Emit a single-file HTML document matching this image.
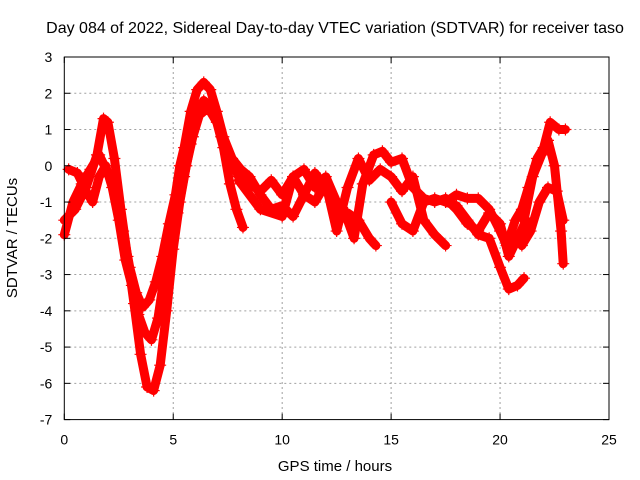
<!DOCTYPE html>
<html><head><meta charset="utf-8"><style>
html,body{margin:0;padding:0;background:#fff;}
svg{display:block;font-family:"Liberation Sans",sans-serif;}
</style></head><body>
<svg id="chart" width="640" height="480" viewBox="0 0 640 480">
<rect width="640" height="480" fill="#fff"/>
<text x="335" y="33" font-size="16" text-anchor="middle" fill="#000">Day 084 of 2022, Sidereal Day-to-day VTEC variation (SDTVAR) for receiver taso</text>
<text x="335" y="471" font-size="15" text-anchor="middle">GPS time / hours</text>
<text transform="translate(17,238) rotate(-90)" font-size="15" text-anchor="middle">SDTVAR / TECUs</text>
<g id="grid"></g><g id="series"></g><g id="axes"></g>
</svg>
<script>
const xTicks=[0,5,10,15,20,25];
const yTicks=[3,2,1,0,-1,-2,-3,-4,-5,-6,-7];
const serA_t=[0,0.5,1.0,1.5,1.8,2.0,2.3,2.6,2.9,3.2,3.5,3.8,4.1,4.4,4.7,5.0,5.3,5.6,5.9,6.2,6.6,7.0,7.3,7.6,7.9,8.2];
const serA_v=[-1.5,-1.2,-0.6,0.3,1.3,1.2,0.2,-1.2,-2.5,-3.8,-5.2,-6.1,-6.2,-5.5,-4.0,-2.3,-1.0,0.0,0.8,1.4,1.6,1.2,0.5,-0.5,-1.2,-1.7];
const serB_t=[0.2,0.6,1.0,1.3,1.6,1.9,2.2,2.5,2.8,3.1,3.4,3.7,4.0,4.3,4.6,4.9,5.2,5.5,5.8,6.1,6.4,6.8,7.2,7.6,8.0,8.5,9.0,9.5,10.0,10.5,11.0,11.5,12.0,12.5,13.0,13.3,13.7,14.2,14.6,15.0,15.5,16.0,16.5,17.0,17.5,18.0,18.5,19.0,19.5,20.0,20.4,20.8,21.2];
const serB_v=[-0.1,-0.2,-0.7,-1.0,-0.3,0.0,-0.6,-1.5,-2.6,-3.3,-4.1,-4.6,-4.8,-4.2,-3.0,-2.0,-1.3,-0.3,0.6,1.5,1.8,1.6,0.8,0.2,-0.3,-0.5,-0.7,-0.4,-0.8,-0.3,-0.1,-0.6,-0.3,-1.0,-1.5,-2.0,-0.5,0.3,0.4,0.1,0.2,-0.6,-0.9,-1.0,-0.9,-1.2,-1.6,-1.8,-1.3,-1.6,-2.5,-2.0,-1.5];
const serC_t=[0,0.4,0.8,1.2,1.6,2.0,2.4,2.7,3.0,3.3,3.6,3.9,4.2,4.5,4.8,5.1,5.3,5.5,5.8,6.1,6.4,6.7,7.0,7.3,7.7,8.1,8.5,9.0,9.5,10.0,10.5,11.0,11.5,12.0,12.5,13.0,13.5,14.0,14.3];
const serC_v=[-1.9,-1.0,-0.5,-0.1,0.3,-0.2,-0.8,-1.8,-2.8,-3.5,-3.9,-3.7,-3.2,-2.5,-1.6,-0.8,0.0,0.5,1.5,2.1,2.3,2.1,1.5,0.8,0.2,-0.1,-0.3,-0.8,-1.2,-1.1,-1.4,-0.8,-0.2,-0.6,-1.2,-1.3,-1.5,-2.0,-2.2];
const serD_t=[8,9,10,10.5,11,11.5,12,12.5,13,13.5,14,14.5,15,15.5,16,16.5,17,17.5];
const serD_v=[-0.4,-1.2,-1.4,-0.3,-0.8,-1.0,-0.5,-1.8,-0.6,0.2,-0.4,-0.1,-0.3,-0.7,-0.3,-1.5,-1.9,-2.2];
const serE_t=[15,15.5,16,16.5,17,17.5,18,18.5,19,19.5,20.0,20.3,20.7,21,21.3,21.7,22.0,22.3,22.7,23.0];
const serE_v=[-1.0,-1.6,-1.8,-1.0,-0.9,-1.0,-0.8,-0.9,-0.9,-1.2,-1.8,-2.2,-1.5,-1.2,-0.6,0.2,0.5,1.2,1.0,1.0];
const serF_t=[17.5,18,18.5,19,19.5,20,20.4,20.8,21.1];
const serF_v=[-1.0,-1.1,-1.5,-1.9,-2.0,-2.8,-3.4,-3.3,-3.1];
const serG_t=[21,21.4,21.8,22.2,22.6,22.9];
const serG_v=[-2.2,-1.8,-1.0,-0.6,-0.7,-1.5];
const serH_t=[21.1,21.5,21.9,22.2,22.5,22.8,22.9];
const serH_v=[-1.5,-0.3,0.3,0.7,0.0,-1.8,-2.7];
const allSeries=[[serA_t,serA_v],[serB_t,serB_v],[serC_t,serC_v],[serD_t,serD_v],[serE_t,serE_v],[serF_t,serF_v],[serG_t,serG_v],[serH_t,serH_v]];

const L=64.3,R=609,T=57,B=419.6;
const sx=v=>L+(v-0)/(25-0)*(R-L);
const sy=v=>T+(3-v)/(3-(-7))*(B-T);
const NS="http://www.w3.org/2000/svg";
function mk(tag,attrs,parent){const e=document.createElementNS(NS,tag);for(const k in attrs)e.setAttribute(k,attrs[k]);parent.appendChild(e);return e;}
const grid=document.getElementById('grid'),axes=document.getElementById('axes'),ser=document.getElementById('series');
xTicks.forEach(t=>{
  const x=sx(t);
  if(t>0&&t<25){const g=mk('line',{x1:x,y1:T,x2:x,y2:B,stroke:'#a0a0a0','stroke-dasharray':'2,3','stroke-width':1},grid);
  
  }
  mk('line',{x1:x,y1:B,x2:x,y2:B-6,stroke:'#000'},axes);
  mk('line',{x1:x,y1:T,x2:x,y2:T+6,stroke:'#000'},axes);
  const tx=mk('text',{x:x,y:B+25,'font-size':14,'text-anchor':'middle'},axes);
  tx.textContent=t;
  
  
});
yTicks.forEach(t=>{
  const y=sy(t);
  if(t<3&&t>-7){const g=mk('line',{x1:L,y1:y,x2:R,y2:y,stroke:'#a0a0a0','stroke-dasharray':'2,3','stroke-width':1},grid);
  
  }
  mk('line',{x1:L,y1:y,x2:L+6,y2:y,stroke:'#000'},axes);
  mk('line',{x1:R,y1:y,x2:R-6,y2:y,stroke:'#000'},axes);
  const tx=mk('text',{x:L-12,y:y+5,'font-size':14,'text-anchor':'end'},axes);
  tx.textContent=t;
  
  
});
const frame=mk('rect',{x:L,y:T,width:R-L,height:B-T,fill:'none',stroke:'#000','stroke-width':1},axes);


allSeries.forEach((s,i)=>{
  const [ts,vs]=s;
  const g=mk('g',{},ser);
  
  
  const pts=ts.map((t,j)=>sx(t).toFixed(1)+','+sy(vs[j]).toFixed(1)).join(' ');
  mk('polyline',{points:pts,fill:'none',stroke:'#f00','stroke-width':9,'stroke-linejoin':'round','stroke-linecap':'round'},g);
  ts.forEach((t,j)=>{
    const x=sx(t),y=sy(vs[j]);
    const p=mk('path',{d:`M${x-6},${y}H${x+6}M${x},${y-6}V${y+6}`,stroke:'#f00','stroke-width':1.2},g);
    
    
  });
});
</script>
</body></html>
